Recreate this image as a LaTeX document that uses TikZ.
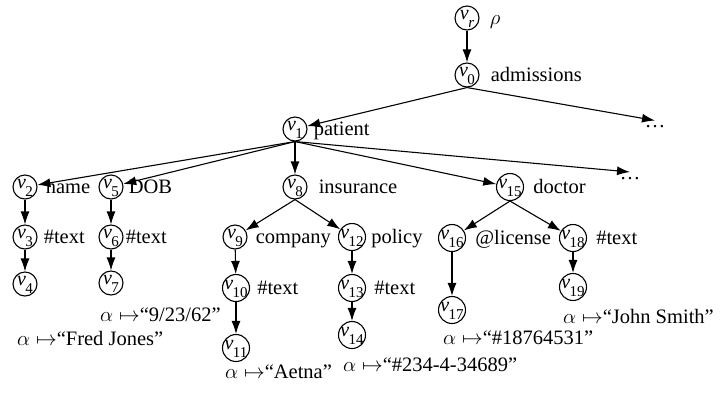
\documentclass[tikz,border=0pt]{standalone}
\usepackage{amsmath}
\usepackage{amssymb}
\usepackage{fontspec}
\setmainfont{Liberation Serif}
\usepackage{tikz}
\usetikzlibrary{arrows.meta}
\usetikzlibrary{positioning}

\newcommand{\vx}[1]{\makebox[0pt]{\raisebox{-1.5pt}[0pt][0pt]{\fontsize{20}{20}\selectfont
  \textit{v}\kern-.5pt\raisebox{-7.5pt}{\fontsize{15}{15}\selectfont #1}}}}
\newcommand{\amap}[1]{$\alpha\mapsto$``#1''}

\tikzset{
  vnode/.style={circle, draw, line width=1.1pt, inner sep=0pt, minimum size=24pt},
  vwide/.style={vnode, minimum size=27pt},
  lbl/.style={inner sep=0pt, text height=.7em, text depth=.05em},
  dotsn/.style={inner sep=0pt, text height=.35em, text depth=0pt, anchor=north},
  edge/.style={line width=1.1pt, -{Latex[length=13pt,width=9pt]}},
}

\begin{document}
\begin{tikzpicture}[x=1pt, y=-1pt]
    \fontsize{20.5}{25}\selectfont
    \useasboundingbox (0,0) rectangle (722,392);

    \node [vnode] (vr) at (467,18) {\vx{\textit{r}}};
    \node [vnode] (v0) at (467,75) {\vx{0}};
    \node [vnode] (v1) at (295,129) {\vx{1}};
    \node [dotsn] (d0) at (655,120.5) {\dots};

    \node [vnode] (v2) at (25,187) {\vx{2}};
    \node [vnode] (v5) at (111,187) {\vx{5}};
    \node [vnode] (v8) at (295,187) {\vx{8}};
    \node [vwide] (v15) at (510,187) {\vx{15}};
    \node [dotsn] (d1) at (630,172) {\dots};

    \node [vnode] (v3) at (25,237) {\vx{3}};
    \node [vnode] (v6) at (111,237) {\vx{6}};
    \node [vnode] (v9) at (235,237) {\vx{9}};
    \node [vwide] (v12) at (352,237) {\vx{12}};
    \node [vwide] (v16) at (452,238) {\vx{16}};
    \node [vwide] (v18) at (573,238) {\vx{18}};

    \node [vnode] (v4) at (25,284) {\vx{4}};
    \node [vnode] (v7) at (111,283) {\vx{7}};
    \node [vwide] (v10) at (236,288) {\vx{10}};
    \node [vwide] (v13) at (352,288) {\vx{13}};
    \node [vwide] (v19) at (573,287) {\vx{19}};

    \node [vwide] (v11) at (236,348) {\vx{11}};
    \node [vwide] (v14) at (352,335) {\vx{14}};
    \node [vwide] (v17) at (452,310) {\vx{17}};

    % names next to the vertices
    \node [lbl, right=10pt of vr] (tr) {$\rho$};
    \node [lbl, right=11pt of v0] (t0) {admissions};
    \node [lbl, right=6pt of v1] (t1) {patient};
    \node [lbl, right=8pt of v2] (t2) {name};
    \node [lbl, right=5pt of v5] (t5) {DOB};
    \node [lbl, right=11pt of v8] (t8) {insurance};
    \node [lbl, right=9pt of v15] (t15) {doctor};
    \node [lbl, right=6pt of v3] (t3) {\#text};
    \node [lbl, right=2pt of v6] (t6) {\#text};
    \node [lbl, right=8pt of v9] (t9) {company};
    \node [lbl, right=5pt of v12] (t12) {policy};
    \node [lbl, right=9pt of v16] (t16) {@license};
    \node [lbl, right=9pt of v18] (t18) {\#text};
    \node [lbl, right=7pt of v10] (t10) {\#text};
    \node [lbl, right=8pt of v13] (t13) {\#text};

    % values
    \node [lbl, anchor=west] (a4) at (17,339) {\amap{Fred Jones}};
    \node [lbl, anchor=west] (a7) at (100,315) {\amap{9/23/62}};
    \node [lbl, anchor=west] (a11) at (225,372) {\amap{Aetna}};
    \node [lbl, anchor=west] (a14) at (343,365) {\amap{\#234-4-34689}};
    \node [lbl, anchor=west] (a17) at (443,338) {\amap{\#18764531}};
    \node [lbl, anchor=west] (a19) at (563,317) {\amap{John Smith}};

    \draw [edge] (vr) -- (v0);
    \draw [edge] (v0.south) -- (v1);
    \draw [edge] (v0.south) -- (d0.north);
    \draw [edge] (v1.south) -- (v2);
    \draw [edge] (v1.south) -- (v5);
    \draw [edge] (v1.south) -- (v8);
    \draw [edge] (v1.south) -- (v15);
    \draw [edge] (v1.south) -- (d1.north);
    \draw [edge] (v2) -- (v3);
    \draw [edge] (v3) -- (v4);
    \draw [edge] (v5) -- (v6);
    \draw [edge] (v6) -- (v7);
    \draw [edge] (v8.south) -- (v9);
    \draw [edge] (v8.south) -- (v12);
    \draw [edge] (v9) -- (v10);
    \draw [edge] (v10) -- (v11);
    \draw [edge] (v12) -- (v13);
    \draw [edge] (v13) -- (v14);
    \draw [edge] (v15.south) -- (v16);
    \draw [edge] (v15.south) -- (v18);
    \draw [edge] (v16) -- (v17);
    \draw [edge] (v18) -- (v19);
\end{tikzpicture}
\end{document}
